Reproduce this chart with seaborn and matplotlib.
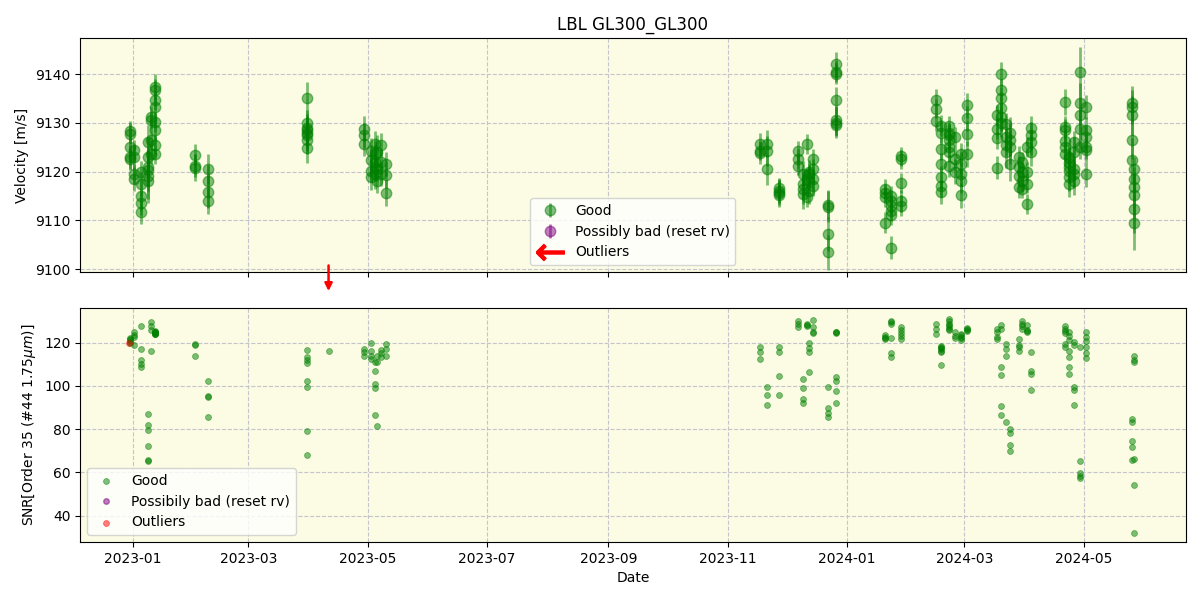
"""LBL radial velocity and SNR time series for GL300."""

import numpy as np
import pandas as pd
import matplotlib
matplotlib.use('Agg')
import matplotlib.pyplot as plt
import matplotlib.dates as mdates
import seaborn as sns

# one entry per night, values per spectrum inside
nights = [
    '2022-12-30 12:00', '2023-01-01 18:00', '2023-01-05 00:00', '2023-01-08 16:00',
    '2023-01-10 06:00', '2023-01-12 12:00', '2023-02-02 00:00', '2023-02-08 12:00',
    '2023-03-31 00:00', '2023-04-29 00:00', '2023-05-02 12:00', '2023-05-04 12:00',
    '2023-05-06 00:00', '2023-05-08 00:00', '2023-05-10 12:00', '2023-11-17 12:00',
    '2023-11-21 00:00', '2023-11-27 00:00', '2023-12-07 00:00', '2023-12-09 12:00',
    '2023-12-11 12:00', '2023-12-12 18:00', '2023-12-14 12:00', '2023-12-22 12:00',
    '2023-12-26 12:00', '2024-01-20 14:00', '2024-01-23 12:00', '2024-01-28 12:00',
    '2024-02-15 12:00', '2024-02-18 00:00', '2024-02-22 00:00', '2024-02-25 00:00',
    '2024-02-28 00:00', '2024-03-02 12:00', '2024-03-17 16:00', '2024-03-19 12:00',
    '2024-03-22 00:00', '2024-03-24 12:00', '2024-03-29 00:00', '2024-03-30 12:00',
    '2024-04-02 00:00', '2024-04-04 00:00', '2024-04-21 12:00', '2024-04-23 12:00',
    '2024-04-26 00:00', '2024-04-29 06:00', '2024-05-02 00:00', '2024-05-25 12:00',
    '2024-05-26 18:00',
]

rv = [
    [9128.3, 9127.8, 9125.0, 9123.0, 9122.5], [9124.5, 9123.0, 9119.5, 9118.5],
    [9120.0, 9117.5, 9115.0, 9111.6, 9113.5], [9126.0, 9123.0, 9121.0, 9120.3, 9118.0, 9119.0],
    [9131.2, 9126.5, 9123.5, 9130.5],
    [9137.4, 9136.7, 9134.6, 9133.3, 9130.2, 9128.5, 9125.4, 9123.6],
    [9123.4, 9121.2, 9120.8], [9120.5, 9118.1, 9115.9, 9113.9],
    [9135.0, 9130.0, 9129.0, 9128.5, 9127.5, 9126.4, 9124.9, 9128.0],
    [9128.8, 9127.4, 9125.7], [9124.3, 9122.3, 9120.2, 9118.8],
    [9125.7, 9123.5, 9121.0, 9119.5, 9122.0], [9124.0, 9120.5, 9118.0],
    [9125.5, 9122.0, 9119.5], [9121.6, 9119.2, 9115.6], [9125.7, 9124.3, 9123.8],
    [9125.7, 9124.2, 9120.5], [9116.6, 9115.2, 9116.0, 9115.5], [9124.2, 9122.6, 9121.2],
    [9119.5, 9117.5, 9115.4, 9116.5], [9125.7, 9114.7, 9118.5],
    [9119.5, 9118.0, 9120.0, 9116.0], [9122.6, 9118.5, 9117.0, 9120.5],
    [9113.2, 9112.8, 9107.1, 9103.4],
    [9142.0, 9140.5, 9140.1, 9134.6, 9130.5, 9130.0, 9129.5],
    [9116.4, 9115.5, 9114.7, 9109.5], [9115.0, 9113.0, 9111.0, 9104.4, 9114.0, 9112.0],
    [9123.1, 9122.5, 9117.6, 9114.0, 9113.0], [9134.6, 9132.9, 9130.3],
    [9121.6, 9118.8, 9117.1, 9115.8, 9129.4, 9128.0, 9124.6],
    [9129.4, 9128.0, 9126.5, 9125.0, 9124.0, 9127.5, 9121.1], [9127.0, 9122.5, 9120.0],
    [9123.5, 9121.6, 9119.5, 9118.1, 9115.1], [9133.6, 9130.9, 9127.8, 9123.6],
    [9131.5, 9128.8, 9126.9, 9120.8], [9140.0, 9136.7, 9135.0, 9133.0, 9131.2, 9130.0],
    [9129.7, 9127.0, 9125.5, 9124.0], [9128.0, 9126.5, 9125.0, 9121.6],
    [9123.0, 9121.0, 9116.8, 9119.0], [9122.0, 9120.0, 9118.0, 9116.5],
    [9113.3, 9117.5, 9120.0, 9125.0], [9129.0, 9127.5, 9126.0, 9124.0],
    [9129.1, 9128.5, 9126.3, 9125.0, 9123.6, 9134.3],
    [9122.8, 9121.8, 9120.2, 9118.8, 9117.5, 9123.0, 9121.0],
    [9119.5, 9118.0, 9124.0, 9120.5, 9126.0], [9140.5, 9134.0, 9131.5, 9128.8, 9125.0],
    [9133.3, 9128.6, 9127.1, 9125.0, 9124.4, 9119.4],
    [9134.0, 9133.3, 9131.5, 9126.5, 9122.3],
    [9120.5, 9118.5, 9116.8, 9115.1, 9112.3, 9109.5],
]

rv_err = [
    [2.0, 2.2, 2.0, 2.5, 2.2], [2.0, 2.3, 2.0, 2.4], [2.2, 2.5, 2.8, 2.3, 2.5],
    [3.5, 3.8, 4.0, 4.2, 4.5, 4.6], [2.2, 2.0, 2.0, 2.0],
    [2.6, 2.2, 2.0, 2.0, 2.0, 2.0, 2.0, 2.0], [2.3, 2.4, 2.8], [3.0, 3.2, 3.3, 2.7],
    [3.4, 2.6, 2.6, 2.6, 2.8, 2.8, 3.2, 3.8], [2.5, 2.5, 2.5], [2.5, 2.6, 2.4, 2.5],
    [2.6, 2.8, 3.0, 3.0, 3.5], [3.5, 2.5, 2.5], [2.4, 2.5, 2.5], [2.5, 2.5, 2.6],
    [2.2, 2.0, 2.3], [2.8, 3.0, 3.2], [2.0, 2.1, 2.5, 2.8], [2.0, 2.0, 2.0],
    [2.6, 2.8, 3.0, 3.1], [2.0, 2.0, 2.0], [2.2, 2.2, 2.4, 2.6], [2.0, 2.0, 2.0, 2.0],
    [3.0, 3.2, 3.5, 3.6], [2.6, 2.2, 2.2, 2.8, 3.0, 3.2, 2.2], [2.0, 2.0, 2.0, 2.2],
    [2.0, 2.0, 2.0, 2.4, 2.2, 2.2], [2.0, 2.0, 2.1, 2.2, 2.2], [2.4, 2.0, 2.0],
    [2.2, 2.3, 2.3, 2.5, 2.2, 2.2, 2.2], [2.0, 2.0, 2.0, 2.0, 2.0, 2.2, 2.2],
    [2.2, 2.4, 2.5], [2.4, 2.4, 2.5, 2.5, 2.6], [2.6, 2.6, 2.6, 2.6],
    [2.2, 2.2, 2.2, 2.3], [2.5, 2.3, 2.3, 2.6, 2.8, 3.0], [2.3, 2.3, 2.4, 3.2],
    [3.2, 3.4, 3.5, 3.6], [2.2, 2.2, 2.3, 2.2], [2.0, 2.0, 2.0, 2.0],
    [2.0, 2.0, 2.0, 2.0], [2.4, 2.6, 2.6, 2.8], [2.3, 2.3, 2.3, 2.3, 2.4, 2.6],
    [2.4, 2.5, 2.6, 2.7, 2.8, 2.3, 2.3], [2.8, 2.8, 3.0, 2.4, 2.4],
    [5.0, 4.2, 4.0, 4.0, 2.5], [2.5, 2.5, 2.5, 2.4, 2.4, 2.6],
    [3.5, 3.5, 4.0, 4.0, 4.5], [2.5, 2.5, 2.5, 4.5, 5.0, 5.5],
]

snr = [
    [120.5, 121.5, 122.0, 121.0, 120.0], [122.5, 124.8, 123.5, 119.1],
    [117.1, 112.0, 110.0, 108.5, 127.9], [86.8, 81.9, 79.4, 72.1, 65.9, 65.1],
    [116.3, 125.9, 129.3, 127.9],
    [124.8, 124.0, 125.0, 124.5, 125.5, 124.2, 124.8, 123.8],
    [119.5, 119.0, 114.0], [102.3, 95.3, 95.0, 85.6],
    [116.6, 113.2, 112.0, 110.4, 102.3, 99.5, 79.1, 68.2],
    [117.0, 115.5, 114.0], [119.7, 116.3, 114.0, 112.5],
    [110.8, 107.0, 100.8, 98.9, 86.5], [81.4, 114.0, 111.0], [115.0, 113.5, 116.5],
    [119.5, 117.0, 114.0], [117.8, 115.5, 112.4], [99.5, 95.7, 91.0],
    [118.1, 115.8, 104.7, 95.7], [129.9, 128.5, 127.4], [103.1, 99.0, 93.8, 92.0],
    [128.7, 128.0, 127.5], [120.0, 117.5, 115.5, 106.5], [130.5, 127.0, 125.0, 124.5],
    [99.5, 89.6, 87.5, 85.6], [124.8, 124.5, 103.9, 102.3, 97.7, 92.0, 125.0],
    [123.6, 122.0, 121.7, 122.5], [130.2, 129.5, 128.4, 115.0, 113.2, 122.3],
    [127.0, 126.0, 124.5, 123.0, 121.7], [128.7, 126.5, 124.0],
    [118.6, 117.0, 115.5, 109.8, 117.5, 116.0, 118.0],
    [131.0, 130.0, 128.0, 127.0, 126.5, 125.6, 128.5], [124.8, 123.0, 122.0],
    [124.0, 122.5, 121.3, 123.5, 122.0], [126.8, 126.0, 125.5, 126.3],
    [126.3, 122.5, 125.0, 121.5], [128.0, 126.3, 108.8, 105.1, 90.7, 86.5],
    [119.4, 117.0, 114.0, 83.4], [80.0, 78.3, 72.6, 70.0], [121.7, 119.0, 116.3, 118.0],
    [130.2, 128.5, 126.4, 127.5], [128.0, 126.0, 125.5, 124.8], [115.8, 106.7, 105.4, 98.0],
    [127.5, 126.5, 125.5, 124.5, 119.4, 118.0],
    [116.0, 113.2, 108.8, 105.4, 121.0, 123.0, 125.0],
    [99.5, 98.0, 91.2, 120.5, 119.0], [65.1, 59.7, 58.5, 57.4, 117.8],
    [117.8, 115.0, 112.9, 124.8, 122.5, 120.9],
    [84.5, 83.4, 74.4, 71.6, 65.9], [114.0, 112.0, 110.8, 66.0, 54.3, 32.1],
]

# velocity outlier below the plotted range (drawn as an arrow)
rv_outlier_dates = ['2023-04-11 00:00']
rv_outlier_snr = [116.3]
# spectrum flagged as outlier in SNR panel
snr_outlier_dates = ['2022-12-30 00:00']
snr_outlier = [119.9]

rows = []
for t, vs, es, ss in zip(nights, rv, rv_err, snr):
    for v, e, s in zip(vs, es, ss):
        rows.append((t, v, e, s))
df = pd.DataFrame(rows, columns=['date', 'rv', 'rv_err', 'snr'])
df['date'] = pd.to_datetime(df['date'])

off_df = pd.DataFrame({'date': pd.to_datetime(rv_outlier_dates), 'snr': rv_outlier_snr})
bad_df = pd.DataFrame({'date': pd.to_datetime(snr_outlier_dates), 'snr': snr_outlier})

fig, (ax1, ax2) = plt.subplots(2, 1, figsize=(12, 6), sharex=True)
fig.subplots_adjust(left=0.0667, right=0.988, top=0.9367, bottom=0.0967, hspace=0.154)

bg = '#fcfbe3'
for ax in (ax1, ax2):
    ax.set_facecolor(bg)
    ax.grid(True, color='#c4c4cc', linestyle='--', linewidth=0.8)
    ax.set_axisbelow(True)

# velocity panel
h_good = ax1.errorbar(df['date'], df['rv'], yerr=df['rv_err'], fmt='o', color='green',
                      ecolor='green', alpha=0.5, ms=7.5, elinewidth=2, label='Good')
h_bad = ax1.errorbar([], [], yerr=[], fmt='o', color='purple', alpha=0.5, ms=7.5,
                     elinewidth=2, label='Possibly bad (reset rv)')
h_out, = ax1.plot([], [], ls='none', marker=r'$\leftarrow$', color='red', ms=20,
                  mew=0.9, label='Outliers')

ylo, yhi = 9099.4, 9147.4
for d in pd.to_datetime(rv_outlier_dates):
    ax1.annotate('', xy=(d, ylo - 4.5), xytext=(d, ylo + 1.9),
                 arrowprops=dict(arrowstyle='-|>', color='red', lw=1.8, mutation_scale=11),
                 annotation_clip=False)
ax1.set_ylim(ylo, yhi)
ax1.set_yticks([9100, 9110, 9120, 9130, 9140])
ax1.set_ylabel('Velocity [m/s]')
ax1.set_title('LBL GL300_GL300', fontsize=12)
ax1.legend(handles=[h_good, h_bad, h_out], loc='lower center')

# SNR panel
sns.scatterplot(data=df, x='date', y='snr', ax=ax2, color='green', alpha=0.5,
                s=18, edgecolor='green', linewidth=0.6, label='Good')
sns.scatterplot(data=off_df, x='date', y='snr', ax=ax2, color='green', alpha=0.5,
                s=18, edgecolor='green', linewidth=0.6)
ax2.plot([], [], 'o', color='purple', alpha=0.5, ms=4, label='Possibily bad (reset rv)')
sns.scatterplot(data=bad_df, x='date', y='snr', ax=ax2, color='red', alpha=0.5,
                s=18, edgecolor='red', linewidth=0.6, label='Outliers')
ax2.set_ylim(27.8, 136.0)
ax2.set_yticks([40, 60, 80, 100, 120])
ax2.set_ylabel(r'SNR[Order 35 (#44 1.75$\mu m$)]')
ax2.set_xlabel('Date')
ax2.legend(loc='lower left')

ax2.set_xlim(pd.Timestamp('2022-12-05'), pd.Timestamp('2024-06-22'))
ax2.xaxis.set_major_locator(mdates.MonthLocator(bymonth=[1, 3, 5, 7, 9, 11]))
ax2.xaxis.set_major_formatter(mdates.DateFormatter('%Y-%m'))

fig.savefig('out.png', dpi=100)
